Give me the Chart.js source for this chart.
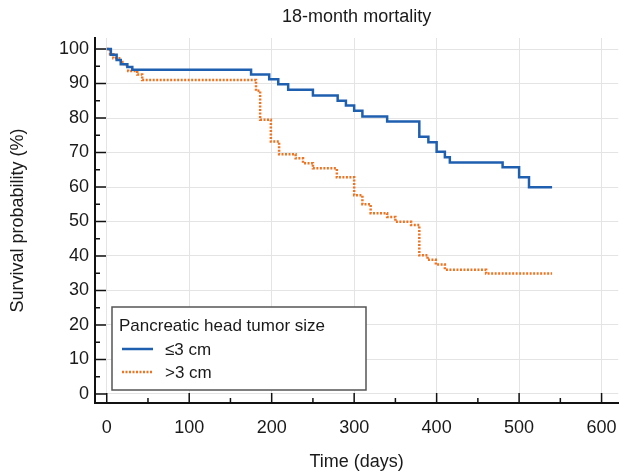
<!DOCTYPE html>
<html><head><meta charset="utf-8">
<script src="https://cdn.jsdelivr.net/npm/chart.js@4/dist/chart.umd.min.js"></script>
<style>html,body{margin:0;padding:0;background:#fff}</style>
</head><body>
<canvas id="c" width="631" height="475"></canvas>
<script>
// ---- data ----
const chartTitle = "18-month mortality";
const xTitle = "Time (days)";
const yTitle = "Survival probability (%)";
const legendTitle = "Pancreatic head tumor size";
const seriesNames = ["≤3 cm", ">3 cm"];

const smallDays = [0, 5, 12, 17, 25, 31, 175, 197, 208, 220, 250, 280, 290, 300, 310, 340, 379, 390, 400, 410, 416, 480, 500, 512, 540];
const smallSurv = [100, 98.3, 96.8, 95.6, 94.8, 94.0, 92.6, 91.2, 89.8, 88.2, 86.5, 85.0, 83.6, 82.1, 80.4, 79.0, 74.6, 73.0, 70.2, 68.6, 67.1, 65.7, 62.8, 59.9, 59.9];

const largeDays = [0, 4, 8, 17, 21, 26, 37, 43, 181, 186, 199, 209, 229, 238, 250, 279, 300, 310, 320, 340, 350, 369, 379, 389, 399, 410, 460, 540];
const largeSurv = [100, 98.5, 97.3, 96.2, 95.3, 93.6, 92.6, 91.0, 87.9, 79.5, 73.2, 69.5, 68.3, 66.9, 65.4, 62.8, 57.6, 55.0, 52.4, 51.3, 49.9, 49.0, 40.2, 38.9, 37.5, 36.0, 34.9, 34.9];

const xTicks = [0, 100, 200, 300, 400, 500, 600];
const xMinorTicks = [50, 150, 250, 350, 450, 550];
const yTicks = [0, 10, 20, 30, 40, 50, 60, 70, 80, 90, 100];
const yMinorTicks = [5, 15, 25, 35, 45, 55, 65, 75, 85, 95];

// ---- styles ----
const FONT = "'Liberation Sans', Arial, Helvetica, sans-serif";
const BLUE = '#1f5fb0';
const ORANGE = '#ee7421';
const TEXT = '#1a1a1a';

const toPts = (xs, ys) => xs.map((d, i) => ({x: d, y: ys[i]}));

const inwardTicks = {
  id: 'inwardTicks',
  afterDatasetsDraw(chart) {
    const {ctx, chartArea: a, scales: {x, y}} = chart;
    ctx.save();
    ctx.strokeStyle = '#111';
    ctx.lineWidth = 1.5;
    ctx.beginPath();
    const vt = (vals, len) => vals.forEach(v => {
      const px = x.getPixelForValue(v);
      ctx.moveTo(px, a.bottom); ctx.lineTo(px, a.bottom - len);
    });
    const ht = (vals, len) => vals.forEach(v => {
      const py = y.getPixelForValue(v);
      ctx.moveTo(a.left, py); ctx.lineTo(a.left + len, py);
    });
    vt(xTicks, 10); vt(xMinorTicks, 5);
    ht(yTicks, 11); ht(yMinorTicks, 5);
    ctx.stroke();
    ctx.restore();
  }
};

const boxLegend = {
  id: 'boxLegend',
  afterDatasetsDraw(chart) {
    const {ctx} = chart;
    const bx = 112, by = 307, bw = 254, bh = 83;
    ctx.save();
    ctx.fillStyle = '#fff';
    ctx.fillRect(bx, by, bw, bh);
    ctx.strokeStyle = '#555';
    ctx.lineWidth = 1.5;
    ctx.strokeRect(bx, by, bw, bh);
    ctx.fillStyle = TEXT;
    ctx.font = '17px ' + FONT;
    ctx.textBaseline = 'middle';
    ctx.textAlign = 'left';
    ctx.fillText(legendTitle, bx + 7, by + 19);
    const ds = chart.data.datasets;
    const rows = [by + 42, by + 65];
    ds.forEach((d, i) => {
      ctx.save();
      ctx.strokeStyle = d.borderColor;
      ctx.lineWidth = d.borderWidth;
      ctx.setLineDash(d.borderDash || []);
      ctx.beginPath();
      ctx.moveTo(bx + 10, rows[i]); ctx.lineTo(bx + 41, rows[i]);
      ctx.stroke();
      ctx.restore();
      ctx.fillText(d.label, bx + 53, rows[i] + 1);
    });
    ctx.restore();
  }
};

new Chart(document.getElementById('c'), {
  type: 'line',
  data: {
    datasets: [
      {label: seriesNames[0], data: toPts(smallDays, smallSurv), borderColor: BLUE, borderWidth: 2.5, stepped: true, pointRadius: 0, fill: false},
      {label: seriesNames[1], data: toPts(largeDays, largeSurv), borderColor: ORANGE, borderWidth: 2.5, borderDash: [2, 1.5], stepped: true, pointRadius: 0, fill: false}
    ]
  },
  options: {
    responsive: false,
    animation: false,
    layout: {padding: {left: 0, right: 1, top: 0, bottom: 0}},
    plugins: {
      legend: {display: false},
      tooltip: {enabled: false},
      title: {
        display: true, text: chartTitle, fullSize: false, color: TEXT,
        font: {family: FONT, size: 18, weight: 'normal'},
        padding: {top: 6, bottom: 10.4}
      }
    },
    scales: {
      x: {
        type: 'linear', min: -14.23, max: 620.2,
        afterBuildTicks: s => { s.ticks = xTicks.map(v => ({value: v})); },
        afterFit: s => { s.height = 72; },
        grid: {color: '#e4e4e4', lineWidth: 1, drawTicks: false},
        border: {color: '#111', width: 2},
        ticks: {color: TEXT, font: {family: FONT, size: 18}, padding: 14, maxRotation: 0},
        title: {display: true, text: xTitle, color: TEXT, font: {family: FONT, size: 18}, padding: {top: 0, bottom: 2}}
      },
      y: {
        type: 'linear', min: -2.61, max: 103.19,
        afterBuildTicks: s => { s.ticks = yTicks.map(v => ({value: v})); },
        afterFit: s => { s.width = 95; },
        grid: {color: '#e4e4e4', lineWidth: 1, drawTicks: false},
        border: {color: '#111', width: 2},
        ticks: {color: TEXT, font: {family: FONT, size: 18}, padding: 6},
        title: {display: true, text: yTitle, color: TEXT, font: {family: FONT, size: 18}, padding: {top: 7, bottom: 0}}
      }
    }
  },
  plugins: [boxLegend, inwardTicks]
});
</script>
</body></html>
